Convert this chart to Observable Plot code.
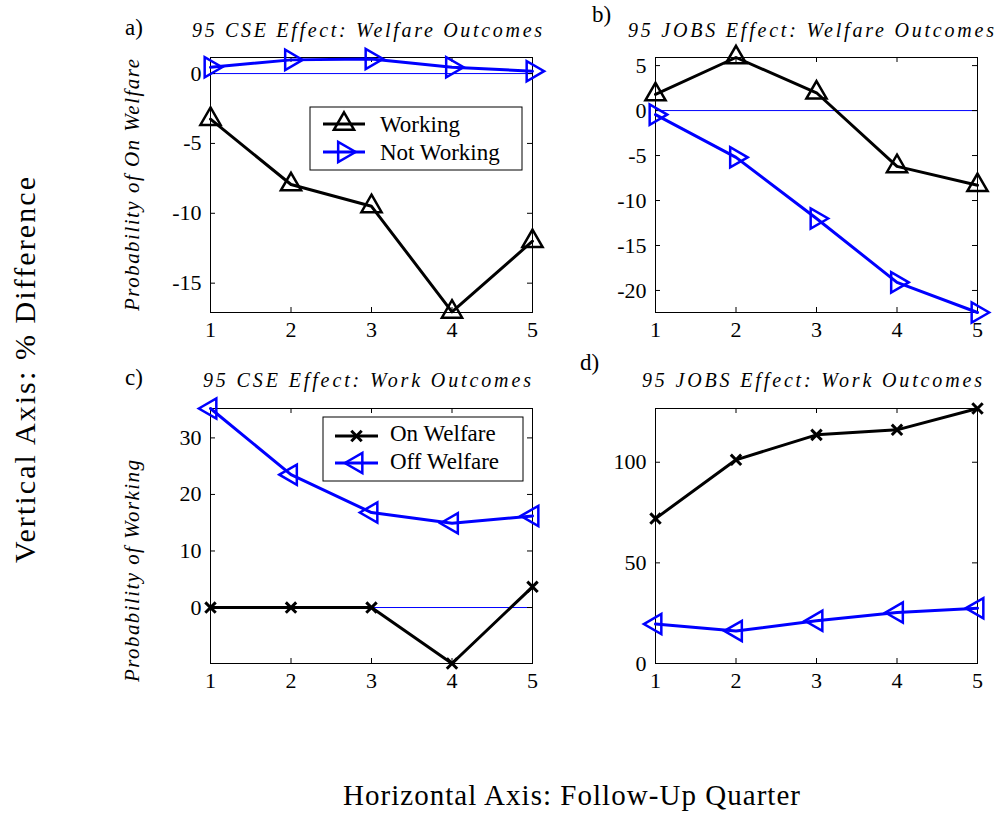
<!DOCTYPE html>
<html><head><meta charset="utf-8">
<script src="https://cdn.jsdelivr.net/npm/d3@7"></script>
<script src="https://cdn.jsdelivr.net/npm/@observablehq/plot@0.6"></script>
<style>
html,body{margin:0;padding:0;background:#fff;}
#root{position:relative;width:1000px;height:819px;overflow:hidden;font-family:"Liberation Serif","Times New Roman",Times,serif;}
#root svg{position:absolute;overflow:visible;}
</style></head><body><div id="root"></div>
<script>
// ---------- data ----------
const quarters = [1, 2, 3, 4, 5];

const cseWelfareWorking    = [-3.26, -7.94, -9.5, -17.05, -12.0];
const cseWelfareNotWorking = [0.45, 0.98, 1.05, 0.45, 0.17];
const jobsWelfareWorking    = [1.79, 5.9, 1.98, -6.2, -8.3];
const jobsWelfareNotWorking = [-0.45, -5.2, -12.0, -19.1, -22.45];
const cseWorkOnWelfare  = [0, 0, 0, -9.9, 3.66];
const cseWorkOffWelfare = [35.2, 23.5, 16.8, 14.9, 16.2];
const jobsWorkOnWelfare  = [72.0, 101.2, 113.6, 116.1, 126.7];
const jobsWorkOffWelfare = [19.6, 16.2, 21.2, 25.3, 27.5];

const yDomainA = [-17.1, 1.15], yTicksA = [-15, -10, -5, 0];
const yDomainB = [-22.45, 5.9], yTicksB = [-20, -15, -10, -5, 0, 5];
const yDomainC = [-9.9, 35.2],  yTicksC = [0, 10, 20, 30];
const yDomainD = [0, 126.7],    yTicksD = [0, 50, 100];

const panelLetters = ["a)", "b)", "c)", "d)"];
const panelTitles = ["95 CSE Effect: Welfare Outcomes", "95 JOBS Effect: Welfare Outcomes",
                     "95 CSE Effect: Work Outcomes", "95 JOBS Effect: Work Outcomes"];
const yLabels = ["Probability of On Welfare", "Probability of Working"];
const welfareLegend = ["Working", "Not Working"];
const workLegend = ["On Welfare", "Off Welfare"];
const globalYLabel = "Vertical Axis: % Difference";
const globalXLabel = "Horizontal Axis: Follow-Up Quarter";

// ---------- styles ----------
const FONT = '"Liberation Serif","Times New Roman",Times,"Nimbus Roman",serif';
const BLACK = "#000000", BLUE = "#0000ff";
const markerUp = {symbol: "triangle", rotate: 0, r: 7.5, strokeWidth: 2.5};
const markerRight = {symbol: "triangle", rotate: 90, r: 7.5, strokeWidth: 2.5};
const markerLeft = {symbol: "triangle", rotate: -90, r: 7.5, strokeWidth: 2.5};
const markerX = {symbol: "times", rotate: 0, r: 4.8, strokeWidth: 3};

const FW = 322, FH = 255, ML = 60, MR = 25, MT = 15, MB = 35;
const root = document.getElementById("root");

function panel({series, yDomain, yTicks, left, top}) {
  const marks = [
    Plot.ruleY([0], {stroke: BLUE, strokeWidth: 1}),
    Plot.frame({stroke: BLACK, strokeWidth: 1}),
    Plot.tickY(yTicks, {y: d => d, insetRight: FW - 5, stroke: BLACK}),
    Plot.tickY(yTicks, {y: d => d, insetLeft: FW - 5, stroke: BLACK}),
    Plot.tickX(quarters, {x: d => d, insetTop: FH - 5, stroke: BLACK}),
    Plot.tickX(quarters, {x: d => d, insetBottom: FH - 5, stroke: BLACK}),
    Plot.axisX({ticks: quarters, tickSize: 0, tickPadding: 9, tickFormat: d => String(d), fontSize: 22, label: null}),
    Plot.axisY({ticks: yTicks, tickSize: 0, tickPadding: 9, tickFormat: d => String(d), fontSize: 22, label: null})
  ];
  for (const s of series) {
    const data = s.values.map((v, i) => ({q: quarters[i], v}));
    marks.push(Plot.line(data, {x: "q", y: "v", stroke: s.color, strokeWidth: 3}));
    marks.push(Plot.dot(data, {x: "q", y: "v", stroke: s.color, fill: "none",
      symbol: s.marker.symbol, r: s.marker.r, rotate: s.marker.rotate, strokeWidth: s.marker.strokeWidth}));
  }
  const svg = Plot.plot({
    width: ML + FW + MR, height: MT + FH + MB,
    marginLeft: ML, marginRight: MR, marginTop: MT, marginBottom: MB,
    x: {domain: [1, 5], axis: null},
    y: {domain: yDomain, axis: null},
    style: {fontFamily: FONT, color: BLACK, background: "transparent", overflow: "visible"},
    marks
  });
  svg.style.left = left + "px";
  svg.style.top = top + "px";
  root.appendChild(svg);
}

const colL = 210 - ML, colR = 655 - ML, rowT = 57 - MT, rowB = 408 - MT;

panel({left: colL, top: rowT, yDomain: yDomainA, yTicks: yTicksA, series: [
  {values: cseWelfareNotWorking, color: BLUE, marker: markerRight},
  {values: cseWelfareWorking, color: BLACK, marker: markerUp}]});
panel({left: colR, top: rowT, yDomain: yDomainB, yTicks: yTicksB, series: [
  {values: jobsWelfareWorking, color: BLACK, marker: markerUp},
  {values: jobsWelfareNotWorking, color: BLUE, marker: markerRight}]});
panel({left: colL, top: rowB, yDomain: yDomainC, yTicks: yTicksC, series: [
  {values: cseWorkOnWelfare, color: BLACK, marker: markerX},
  {values: cseWorkOffWelfare, color: BLUE, marker: markerLeft}]});
panel({left: colR, top: rowB, yDomain: yDomainD, yTicks: yTicksD, series: [
  {values: jobsWorkOnWelfare, color: BLACK, marker: markerX},
  {values: jobsWorkOffWelfare, color: BLUE, marker: markerLeft}]});

// ---------- overlay texts & legends ----------
const ov = d3.select(root).append("svg").attr("width", 1000).attr("height", 819)
  .style("left", "0px").style("top", "0px")
  .attr("font-family", FONT);

function txt(s, x, y, opts = {}) {
  const t = ov.append("text").attr("x", x).attr("y", y).text(s)
    .attr("font-size", opts.size || 22).attr("fill", BLACK)
    .attr("text-anchor", opts.anchor || "start");
  if (opts.italic) t.attr("font-style", "italic");
  if (opts.len) t.attr("textLength", opts.len).attr("lengthAdjust", "spacing");
  if (opts.rotate) t.attr("transform", `rotate(${opts.rotate},${x},${y})`);
  return t;
}

// panel letters
txt(panelLetters[0], 125, 35, {size: 23});
txt(panelLetters[1], 592, 22, {size: 23});
txt(panelLetters[2], 125, 385, {size: 23});
txt(panelLetters[3], 580, 370, {size: 23});

// titles
txt(panelTitles[0], 192, 37, {size: 20, italic: true, len: 350});
txt(panelTitles[1], 628, 37, {size: 20, italic: true, len: 366});
txt(panelTitles[2], 203, 387, {size: 20, italic: true, len: 328});
txt(panelTitles[3], 642, 387, {size: 20, italic: true, len: 340});

// y labels
txt(yLabels[0], 139, 185, {size: 21, italic: true, anchor: "middle", rotate: -90, len: 252});
txt(yLabels[1], 139, 571, {size: 21, italic: true, anchor: "middle", rotate: -90, len: 222});

// global labels
txt(globalYLabel, 35, 370, {size: 30, anchor: "middle", rotate: -90, len: 386});
txt(globalXLabel, 343, 805, {size: 29, len: 457});

function legend(box, rows) {
  ov.append("rect").attr("x", box.x).attr("y", box.y).attr("width", box.w).attr("height", box.h)
    .attr("fill", "white").attr("stroke", BLACK).attr("stroke-width", 1);
  for (const r of rows) {
    ov.append("line").attr("x1", box.lx1).attr("x2", box.lx2).attr("y1", r.ly).attr("y2", r.ly)
      .attr("stroke", r.color).attr("stroke-width", 3);
    const m = r.marker;
    const type = m.symbol === "times" ? d3.symbolTimes : d3.symbolTriangle;
    ov.append("path").attr("d", d3.symbol(type, m.r * m.r * Math.PI)())
      .attr("transform", `translate(${(box.lx1 + box.lx2) / 2},${r.ly}) rotate(${m.rotate})`)
      .attr("fill", "none").attr("stroke", r.color).attr("stroke-width", m.strokeWidth);
    txt(r.label, box.tx, r.ty, {size: 23});
  }
}
legend({x: 310, y: 107, w: 212, h: 63, lx1: 323, lx2: 365, tx: 380}, [
  {label: welfareLegend[0], color: BLACK, marker: markerUp, ly: 124, ty: 132},
  {label: welfareLegend[1], color: BLUE, marker: markerRight, ly: 152, ty: 160}]);
legend({x: 323, y: 417, w: 200, h: 64, lx1: 335, lx2: 378, tx: 390}, [
  {label: workLegend[0], color: BLACK, marker: markerX, ly: 436, ty: 441},
  {label: workLegend[1], color: BLUE, marker: markerLeft, ly: 463, ty: 469}]);
</script></body></html>
